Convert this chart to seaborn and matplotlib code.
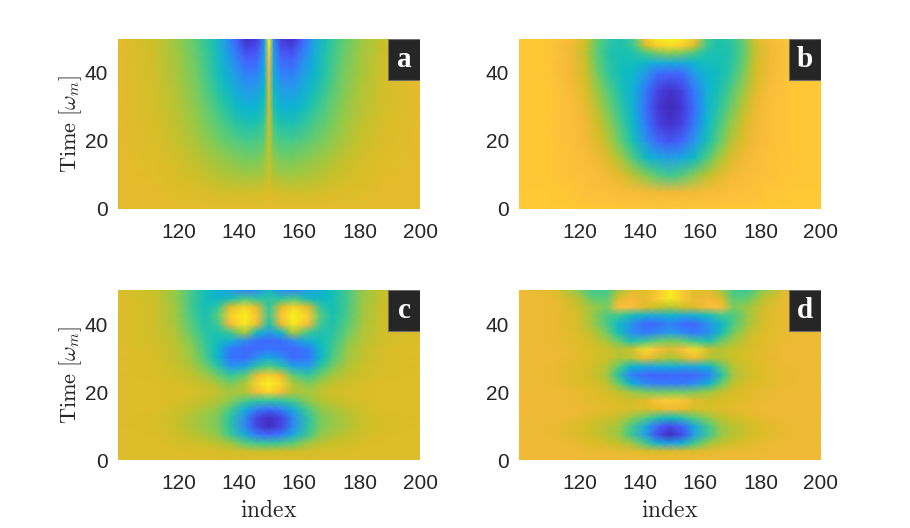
import numpy as np
import matplotlib
matplotlib.use("Agg")
import matplotlib.pyplot as plt
import seaborn as sns
from matplotlib.colors import LinearSegmentedColormap
from matplotlib.patches import Rectangle

# --- data (colour position 0..1 on the parula scale) ---
idx_a = [100, 112, 120, 126, 131, 135, 139, 142.5, 146, 148.5, 150,
         151.5, 154, 157.5, 161, 165, 169, 174, 180, 188, 200]
t_a = [0, 5, 10, 15, 20, 25, 30, 35, 40, 44, 47, 50]
z_a = [
    [.79] * 21,
    [.79, .79, .78, .775, .77, .765, .76, .76, .765, .77, .78, .77, .765, .76, .76, .765, .77, .775, .78, .79, .79],
    [.79, .785, .77, .755, .735, .72, .71, .70, .705, .72, .75, .72, .705, .70, .71, .72, .735, .755, .77, .785, .79],
    [.79, .78, .76, .735, .705, .685, .665, .65, .655, .68, .74, .68, .655, .65, .665, .685, .705, .735, .76, .78, .79],
    [.79, .775, .745, .71, .67, .64, .61, .59, .595, .63, .75, .63, .595, .59, .61, .64, .67, .71, .745, .775, .79],
    [.79, .77, .735, .69, .64, .60, .55, .52, .525, .58, .77, .58, .525, .52, .55, .60, .64, .69, .735, .77, .79],
    [.79, .765, .725, .675, .61, .55, .48, .43, .435, .52, .78, .52, .435, .43, .48, .55, .61, .675, .725, .765, .79],
    [.79, .765, .715, .66, .58, .50, .41, .35, .36, .47, .80, .47, .36, .35, .41, .50, .58, .66, .715, .765, .79],
    [.79, .76, .705, .645, .55, .45, .34, .26, .27, .42, .82, .42, .27, .26, .34, .45, .55, .645, .705, .76, .79],
    [.79, .76, .70, .635, .54, .42, .29, .18, .20, .38, .86, .38, .20, .18, .29, .42, .54, .635, .70, .76, .79],
    [.79, .755, .695, .625, .53, .40, .24, .11, .14, .35, .92, .35, .14, .11, .24, .40, .53, .625, .695, .755, .79],
    [.79, .75, .69, .615, .52, .38, .19, .04, .08, .32, 1.0, .32, .08, .04, .19, .38, .52, .615, .69, .75, .79],
]

idx_b = [100, 110, 117, 122, 126, 130, 134, 138, 142, 146, 150,
         154, 158, 162, 166, 170, 174, 178, 183, 190, 200]
t_b = [0, 5, 10, 15, 20, 25, 30, 35, 40, 43, 46, 48, 50]
z_b = [
    [.87, .87, .87, .86, .86, .86, .86, .86, .86, .86, .86, .86, .86, .86, .86, .86, .86, .86, .87, .87, .87],
    [.87, .87, .86, .85, .84, .84, .83, .83, .82, .81, .81, .81, .82, .83, .83, .84, .84, .85, .86, .87, .87],
    [.87, .86, .85, .84, .83, .81, .78, .73, .67, .61, .58, .61, .67, .73, .78, .81, .83, .84, .85, .86, .87],
    [.87, .86, .85, .83, .81, .77, .70, .60, .48, .40, .36, .40, .48, .60, .70, .77, .81, .83, .85, .86, .87],
    [.87, .86, .84, .82, .78, .72, .62, .50, .33, .20, .15, .20, .33, .50, .62, .72, .78, .82, .84, .86, .87],
    [.87, .86, .84, .81, .76, .68, .58, .45, .25, .10, .05, .10, .25, .45, .58, .68, .76, .81, .84, .86, .87],
    [.87, .86, .84, .80, .73, .64, .54, .42, .22, .07, .02, .07, .22, .42, .54, .64, .73, .80, .84, .86, .87],
    [.87, .86, .83, .78, .69, .60, .51, .42, .25, .10, .05, .10, .25, .42, .51, .60, .69, .78, .83, .86, .87],
    [.87, .86, .82, .76, .65, .55, .49, .45, .35, .22, .20, .22, .35, .45, .49, .55, .65, .76, .82, .86, .87],
    [.87, .86, .82, .75, .63, .54, .50, .50, .45, .40, .40, .40, .45, .50, .50, .54, .63, .75, .82, .86, .87],
    [.87, .86, .82, .74, .62, .53, .51, .53, .60, .66, .68, .66, .60, .53, .51, .53, .62, .74, .82, .86, .87],
    [.87, .86, .82, .75, .62, .54, .52, .58, .76, .88, .92, .88, .76, .58, .52, .54, .62, .75, .82, .86, .87],
    [.87, .86, .83, .76, .64, .55, .52, .60, .85, .95, .98, .95, .85, .60, .52, .55, .64, .76, .83, .86, .87],
]

idx_cd = [100, 112, 119, 124, 129, 133, 137, 142, 146, 150,
          154, 158, 163, 167, 171, 176, 181, 188, 200]
t_cd = [0, 2.5, 5, 7.5, 10, 12.5, 15, 17.5, 20, 22.5, 25,
        27.5, 30, 32.5, 35, 37.5, 40, 42.5, 45, 47.5, 50]
z_c = [
    [.78] * 19,
    [.78, .78, .78, .775, .77, .77, .765, .76, .755, .755, .755, .76, .765, .77, .77, .775, .78, .78, .78],
    [.78, .78, .77, .76, .75, .73, .70, .62, .58, .56, .58, .62, .70, .73, .75, .76, .77, .78, .78],
    [.78, .775, .76, .74, .71, .68, .58, .40, .25, .20, .25, .40, .58, .68, .71, .74, .76, .775, .78],
    [.78, .77, .75, .72, .69, .66, .55, .30, .10, .03, .10, .30, .55, .66, .69, .72, .75, .77, .78],
    [.78, .77, .75, .72, .69, .66, .55, .30, .10, .04, .10, .30, .55, .66, .69, .72, .75, .77, .78],
    [.78, .78, .76, .74, .71, .68, .60, .42, .28, .22, .28, .42, .60, .68, .71, .74, .76, .78, .78],
    [.78, .78, .77, .76, .74, .72, .68, .60, .56, .56, .56, .60, .68, .72, .74, .76, .77, .78, .78],
    [.78, .78, .77, .77, .76, .74, .71, .72, .82, .90, .82, .72, .71, .74, .76, .77, .77, .78, .78],
    [.78, .78, .77, .76, .74, .71, .66, .72, .90, .98, .90, .72, .66, .71, .74, .76, .77, .78, .78],
    [.78, .77, .76, .74, .70, .64, .56, .62, .80, .88, .80, .62, .56, .64, .70, .74, .76, .77, .78],
    [.78, .77, .75, .72, .65, .55, .35, .38, .55, .62, .55, .38, .35, .55, .65, .72, .75, .77, .78],
    [.78, .77, .74, .70, .60, .45, .24, .22, .32, .42, .32, .22, .24, .45, .60, .70, .74, .77, .78],
    [.78, .77, .74, .69, .58, .45, .25, .20, .22, .25, .22, .20, .25, .45, .58, .69, .74, .77, .78],
    [.78, .76, .73, .67, .56, .50, .42, .30, .22, .20, .22, .30, .42, .50, .56, .67, .73, .76, .78],
    [.78, .76, .72, .64, .54, .52, .58, .72, .48, .35, .48, .72, .58, .52, .54, .64, .72, .76, .78],
    [.78, .76, .71, .62, .52, .58, .82, .95, .80, .52, .80, .95, .82, .58, .52, .62, .71, .76, .78],
    [.78, .76, .70, .60, .51, .62, .88, .98, .85, .58, .85, .98, .88, .62, .51, .60, .70, .76, .78],
    [.78, .76, .70, .59, .50, .56, .78, .90, .78, .55, .78, .90, .78, .56, .50, .59, .70, .76, .78],
    [.78, .75, .69, .59, .50, .46, .50, .60, .55, .55, .55, .60, .50, .46, .50, .59, .69, .75, .78],
    [.78, .75, .69, .59, .50, .42, .36, .28, .30, .48, .30, .28, .36, .42, .50, .59, .69, .75, .78],
]
z_d = [
    [.81] * 19,
    [.81, .81, .805, .80, .80, .795, .79, .78, .78, .78, .78, .78, .79, .795, .80, .80, .805, .81, .81],
    [.81, .805, .80, .78, .76, .74, .70, .58, .42, .36, .42, .58, .70, .74, .76, .78, .80, .805, .81],
    [.81, .80, .78, .76, .73, .69, .58, .36, .12, .03, .12, .36, .58, .69, .73, .76, .78, .80, .81],
    [.81, .80, .78, .76, .73, .70, .60, .40, .20, .12, .20, .40, .60, .70, .73, .76, .78, .80, .81],
    [.81, .805, .80, .78, .76, .74, .69, .62, .54, .50, .54, .62, .69, .74, .76, .78, .80, .805, .81],
    [.81, .81, .805, .80, .79, .78, .77, .77, .79, .81, .79, .77, .77, .78, .79, .80, .805, .81, .81],
    [.81, .81, .80, .79, .78, .77, .76, .79, .86, .88, .86, .79, .76, .77, .78, .79, .80, .81, .81],
    [.81, .805, .80, .785, .77, .74, .70, .66, .65, .65, .65, .66, .70, .74, .77, .785, .80, .805, .81],
    [.81, .80, .785, .77, .74, .64, .45, .30, .26, .26, .26, .30, .45, .64, .74, .77, .785, .80, .81],
    [.81, .80, .78, .76, .71, .53, .27, .20, .19, .20, .19, .20, .27, .53, .71, .76, .78, .80, .81],
    [.81, .80, .785, .765, .73, .62, .45, .40, .40, .42, .40, .40, .45, .62, .73, .765, .785, .80, .81],
    [.81, .805, .79, .77, .75, .72, .72, .82, .74, .70, .74, .82, .72, .72, .75, .77, .79, .805, .81],
    [.81, .805, .79, .77, .75, .73, .76, .92, .84, .78, .84, .92, .76, .73, .75, .77, .79, .805, .81],
    [.81, .80, .785, .76, .71, .64, .52, .58, .64, .66, .64, .58, .52, .64, .71, .76, .785, .80, .81],
    [.81, .80, .78, .74, .65, .50, .32, .25, .30, .36, .30, .25, .32, .50, .65, .74, .78, .80, .81],
    [.81, .80, .77, .71, .60, .46, .33, .20, .22, .28, .22, .20, .33, .46, .60, .71, .77, .80, .81],
    [.81, .80, .77, .70, .60, .58, .50, .42, .40, .45, .40, .42, .50, .58, .60, .70, .77, .80, .81],
    [.81, .80, .76, .70, .66, .84, .84, .78, .75, .72, .75, .78, .84, .84, .66, .70, .76, .80, .81],
    [.81, .80, .74, .64, .62, .78, .82, .80, .88, .96, .88, .80, .82, .78, .62, .64, .74, .80, .81],
    [.81, .78, .68, .58, .58, .70, .78, .78, .86, .97, .86, .78, .78, .70, .58, .58, .68, .78, .81],
]

panel_letters = ["a", "b", "c", "d"]
x_ticks = [120, 140, 160, 180, 200]
y_ticks = [0, 20, 40]

# parula-like colormap
parula = LinearSegmentedColormap.from_list("parula", [
    (0.000, (0.2422, 0.1504, 0.6603)),
    (0.063, (0.2704, 0.2138, 0.8346)),
    (0.125, (0.2813, 0.2985, 0.9397)),
    (0.188, (0.2710, 0.3860, 0.9898)),
    (0.251, (0.2006, 0.4803, 0.9906)),
    (0.314, (0.1716, 0.5655, 0.9393)),
    (0.376, (0.1288, 0.6408, 0.8910)),
    (0.439, (0.0433, 0.7039, 0.8242)),
    (0.502, (0.0770, 0.7468, 0.7224)),
    (0.565, (0.2061, 0.7808, 0.6065)),
    (0.627, (0.3671, 0.8021, 0.4563)),
    (0.690, (0.5886, 0.7913, 0.2833)),
    (0.753, (0.7945, 0.7554, 0.1570)),
    (0.784, (0.8804, 0.7372, 0.1650)),
    (0.816, (0.9523, 0.7284, 0.2237)),
    (0.847, (0.9971, 0.7513, 0.2309)),
    (0.878, (0.9938, 0.7974, 0.1974)),
    (0.941, (0.9601, 0.8963, 0.1507)),
    (1.000, (0.9769, 0.9839, 0.0805)),
])

sns.set_theme(style="white")
plt.rcParams["font.family"] = ["Liberation Sans", "DejaVu Sans"]
plt.rcParams["mathtext.fontset"] = "cm"

fig = plt.figure(figsize=(9.1, 5.28), dpi=100)
W, H = 302 / 910, 170 / 528
boxes = [(118 / 910, 1 - 209 / 528), (519 / 910, 1 - 209 / 528),
         (118 / 910, 1 - 460 / 528), (519 / 910, 1 - 460 / 528)]
panels = [(idx_a, t_a, z_a), (idx_b, t_b, z_b), (idx_cd, t_cd, z_c), (idx_cd, t_cd, z_d)]

for k, ((x, t, z), (l, b)) in enumerate(zip(panels, boxes)):
    ax = fig.add_axes([l, b, W, H])
    X, Y = np.meshgrid(x, t)
    ax.pcolormesh(X, Y, np.array(z), shading="gouraud", cmap=parula, vmin=0, vmax=1)
    ax.set_xlim(100, 200)
    ax.set_ylim(0, 50)
    ax.set_xticks(x_ticks)
    ax.set_yticks(y_ticks)
    for s in ax.spines.values():
        s.set_visible(False)
    ax.tick_params(length=0, labelsize=15, colors="#262626")
    ax.tick_params(axis="x", pad=10)
    ax.tick_params(axis="y", pad=7)
    if k % 2 == 0:
        ax.set_ylabel(r"$\mathrm{Time}\ [\omega_m]$", fontsize=16, color="#262626", labelpad=1)
    if k >= 2:
        ax.set_xlabel(r"$\mathrm{index}$", fontsize=17, color="#262626", labelpad=5)
    bw, bh = 32 / 302, 41 / 170
    ax.add_patch(Rectangle((1 - bw, 1 - bh), bw, bh, transform=ax.transAxes,
                           facecolor="#262626", edgecolor="#6e6e6e", lw=0.8, zorder=5))
    ax.text(1 - bw / 2, 1 - bh / 2, panel_letters[k], transform=ax.transAxes,
            ha="center", va="center", color="white", fontsize=21, fontweight="bold",
            family=["Liberation Serif", "DejaVu Serif"], zorder=6)

fig.savefig("out.png", dpi=100, facecolor="white")
